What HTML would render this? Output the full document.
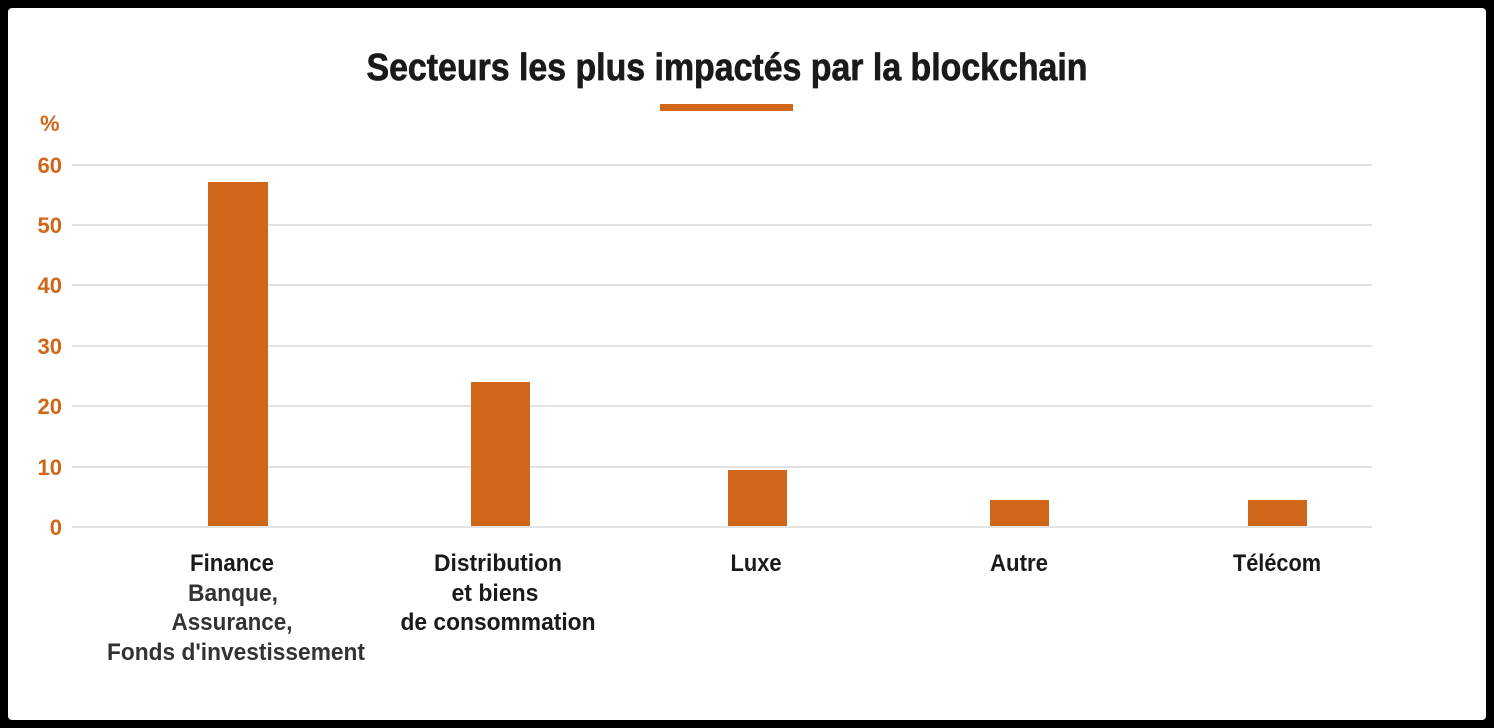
<!DOCTYPE html>
<html><head><meta charset="utf-8"><style>
html,body{margin:0;padding:0;background:#fff}
svg{display:block}
text{font-family:"Liberation Sans Narrow","Liberation Sans",sans-serif;font-weight:bold}
</style></head><body>
<svg width="1494" height="728" viewBox="0 0 1494 728">
<rect x="0" y="0" width="1494" height="728" fill="#000"/>
<rect x="8" y="8" width="1478" height="712" rx="4" fill="#fff"/>
<text x="727" y="80" font-size="38" text-anchor="middle" fill="#1a1a1a" stroke="#1a1a1a" stroke-width="0.7" textLength="721" lengthAdjust="spacingAndGlyphs">Secteurs les plus impactés par la blockchain</text>
<rect x="660" y="104" width="133" height="7" fill="#d06618"/>
<text x="40" y="131" font-size="22" fill="#d06618">%</text>
<g stroke="#e3e3e3" stroke-width="2">
<line x1="72" x2="1372" y1="165" y2="165"/>
<line x1="72" x2="1372" y1="225" y2="225"/>
<line x1="72" x2="1372" y1="285" y2="285"/>
<line x1="72" x2="1372" y1="346" y2="346"/>
<line x1="72" x2="1372" y1="406" y2="406"/>
<line x1="72" x2="1372" y1="467" y2="467"/>
<line x1="72" x2="1372" y1="527" y2="527"/>
</g>
<g font-size="22" fill="#d06618" text-anchor="end">
<text x="62" y="173">60</text>
<text x="62" y="233">50</text>
<text x="62" y="293">40</text>
<text x="62" y="354">30</text>
<text x="62" y="414">20</text>
<text x="62" y="475">10</text>
<text x="62" y="535">0</text>
</g>
<g fill="#d06618">
<rect x="208" y="182" width="60" height="344"/>
<rect x="471" y="382" width="59" height="144"/>
<rect x="728" y="470" width="59" height="56"/>
<rect x="990" y="500" width="59" height="26"/>
<rect x="1248" y="500" width="59" height="26"/>
</g>
<g font-size="24" text-anchor="middle" fill="#1a1a1a" lengthAdjust="spacingAndGlyphs">
<text x="232" y="571" textLength="84" lengthAdjust="spacingAndGlyphs">Finance</text>
<text x="233" y="601" fill="#333" textLength="90" lengthAdjust="spacingAndGlyphs">Banque,</text>
<text x="232" y="630" fill="#333" textLength="121" lengthAdjust="spacingAndGlyphs">Assurance,</text>
<text x="236" y="660" fill="#333" textLength="258" lengthAdjust="spacingAndGlyphs">Fonds d'investissement</text>
<text x="498" y="571" textLength="128" lengthAdjust="spacingAndGlyphs">Distribution</text>
<text x="495" y="601" textLength="87" lengthAdjust="spacingAndGlyphs">et biens</text>
<text x="498" y="630" textLength="195" lengthAdjust="spacingAndGlyphs">de consommation</text>
<text x="756" y="571" textLength="51" lengthAdjust="spacingAndGlyphs">Luxe</text>
<text x="1019" y="571" textLength="58" lengthAdjust="spacingAndGlyphs">Autre</text>
<text x="1277" y="571" textLength="88" lengthAdjust="spacingAndGlyphs">Télécom</text>
</g>
</svg>
</body></html>
